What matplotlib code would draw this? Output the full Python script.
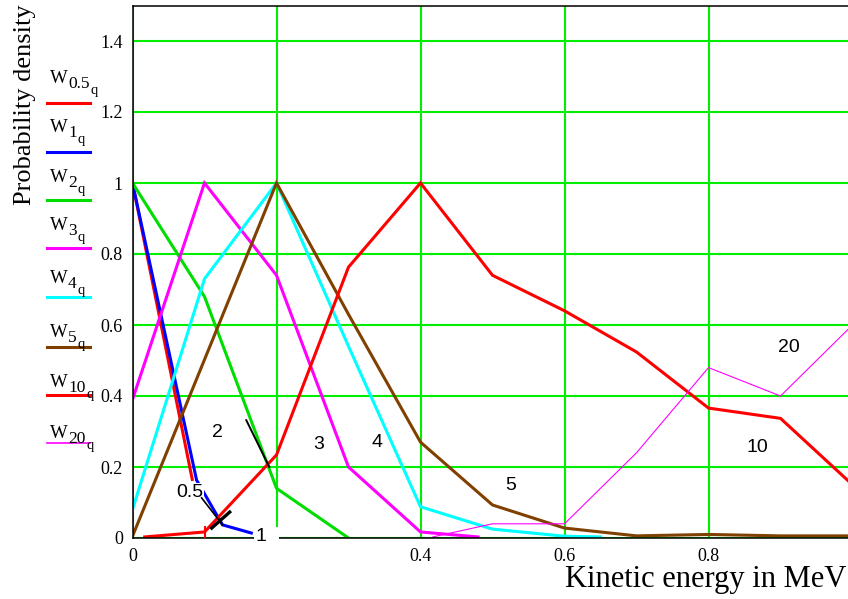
import matplotlib.pyplot as plt
from matplotlib.lines import Line2D

# probability densities (x = kinetic energy, MeV)
x_w05 = [0.0, 0.083]
w05 = [1.0, 0.165]
x_w1 = [0.0, 0.089, 0.125, 0.165]
w1 = [1.0, 0.163, 0.037, 0.014]
x_w2 = [0.0, 0.1, 0.2, 0.3]
w2 = [1.0, 0.68, 0.14, 0.0]
x_w3 = [0.0, 0.1, 0.2, 0.3, 0.4, 0.48]
w3 = [0.39, 1.0, 0.74, 0.2, 0.017, 0.003]
x_w4 = [0.0, 0.1, 0.2, 0.3, 0.4, 0.5, 0.6, 0.65]
w4 = [0.08, 0.73, 1.0, 0.54, 0.088, 0.025, 0.005, 0.003]
x_w5 = [0.0, 0.2, 0.3, 0.4, 0.5, 0.6, 0.7, 0.8, 0.9, 1.0]
w5 = [0.005, 1.0, 0.63, 0.27, 0.093, 0.028, 0.006, 0.01, 0.006, 0.006]
x_w10 = [0.017, 0.1, 0.2, 0.3, 0.4, 0.5, 0.6, 0.7, 0.8, 0.9, 1.0]
w10 = [0.003, 0.017, 0.234, 0.763, 1.0, 0.74, 0.64, 0.524, 0.366, 0.337, 0.15]
x_w20 = [0.417, 0.5, 0.6, 0.7, 0.8, 0.9, 1.0]
w20 = [0.003, 0.04, 0.04, 0.24, 0.48, 0.40, 0.60]

names = ['0.5', '1', '2', '3', '4', '5', '10', '20']
xs = [x_w05, x_w1, x_w2, x_w3, x_w4, x_w5, x_w10, x_w20]
ys = [w05, w1, w2, w3, w4, w5, w10, w20]
colors = ['#ff0000', '#0000ff', '#00dd00', '#ff00ff', '#00ffff', '#804000', '#ff0000', '#ff00ff']
widths = [2.2, 2.2, 2.2, 2.2, 2.2, 2.2, 2.2, 0.8]

x_ticks = [0, 0.2, 0.4, 0.6, 0.8]
x_ticklabels = ['0', '', '0.4', '0.6', '0.8']
y_ticks = [0, 0.2, 0.4, 0.6, 0.8, 1.0, 1.2, 1.4]
y_ticklabels = ['0', '0.2', '0.4', '0.6', '0.8', '1', '1.2', '1.4']

W, H = 848, 599
serif = 'Liberation Serif'
sans = 'Liberation Sans'
grid_green = '#00ee00'

fig = plt.figure(figsize=(W / 100, H / 100), dpi=100)
ax = fig.add_axes([132.5 / W, 1 - 538 / H, 1 - 132.5 / W, (538 - 5.5) / H])

for x, y, c, lw in zip(xs, ys, colors, widths):
    ax.plot(x, y, color=c, lw=lw, zorder=2, solid_joinstyle='miter')

ax.set_xlim(0, 715.5 / 720)
ax.set_ylim(0, 1.5)
ax.set_xticks(x_ticks)
ax.set_xticklabels(x_ticklabels, family=serif, fontsize=13)
ax.set_yticks(y_ticks)
ax.set_yticklabels(y_ticklabels, family=serif, fontsize=13)
ax.tick_params(length=0, pad=7)
ax.grid(True, color=grid_green, lw=1.5)
for side in ['left', 'top', 'bottom']:
    ax.spines[side].set_linewidth(1.1)
ax.spines['right'].set_visible(False)

# curve labels with opaque boxes, like the original worksheet
box = dict(facecolor='white', edgecolor='none', pad=1)
lab_pos = [(0.079, 0.127), (0.171, 0.003), (0.118, 0.296), (0.258, 0.262),
           (0.339, 0.268), (0.525, 0.149), (0.868, 0.254), (0.912, 0.538)]
for n, (lx, ly) in zip(names, lab_pos):
    if n == '1':
        ax.text(lx, ly, '1  ', family=sans, fontsize=14, ha='left', va='center',
                bbox=box, zorder=5)
    else:
        ax.text(lx, ly, n, family=sans, fontsize=14, ha='center', va='center',
                bbox=box, zorder=5)

# black leader strokes
ax.plot([0.096, 0.125], [0.113, 0.037], color='black', lw=1.2, zorder=6)
ax.plot([0.110, 0.135], [0.028, 0.073], color='black', lw=2.4, zorder=6)
ax.plot([0.158, 0.19], [0.332, 0.2], color='black', lw=1.4, zorder=6)
ax.plot([0.1], [0.017], marker='|', ms=8, mew=1.5, color='#ff0000', zorder=6)

# axis titles
fig.text(25 / W, 1 - 105 / H, 'Probability density', rotation=90, family=serif,
         fontsize=19, ha='center', va='center')
fig.text(846 / W, 1 - 580 / H, 'Kinetic energy in MeV', family=serif,
         fontsize=22, ha='right', va='center')

# hand-made legend on the left
renderer = fig.canvas.get_renderer()
line_y = [103, 152, 200, 248, 297, 347, 395, 443]
w_base = [83, 132, 182, 230, 283, 337, 387, 438]
for n, c, lw, ly, wb in zip(names, colors, widths, line_y, w_base):
    fig.add_artist(Line2D([47 / W, 90 / W], [1 - ly / H, 1 - ly / H], color=c,
                          lw=lw if lw > 1 else 1.2))
    fig.text(50 / W, 1 - wb / H, 'W', family=serif, fontsize=13.5, va='baseline')
    s = fig.text(68 / W, 1 - (wb + 5) / H, n, family=serif, fontsize=12.5, va='baseline')
    bb = s.get_window_extent(renderer)
    fig.text((bb.x1 + 1) / W, 1 - (wb + 11) / H, 'q', family=serif, fontsize=10.5,
             va='baseline')

fig.savefig('out.png', dpi=100)
plt.close(fig)
